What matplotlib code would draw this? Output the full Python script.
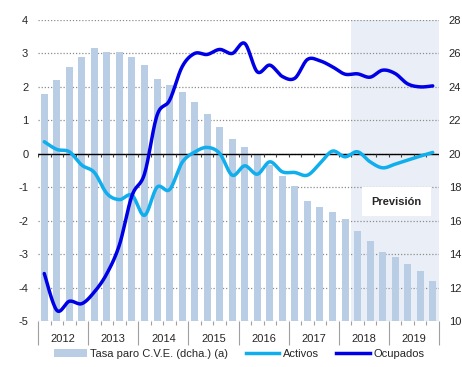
import numpy as np
import matplotlib.pyplot as plt
from matplotlib.patches import Patch
from matplotlib.lines import Line2D

plt.rcParams['font.family'] = ['Liberation Sans', 'DejaVu Sans']
plt.rcParams['axes.unicode_minus'] = False

years = ['2012', '2013', '2014', '2015', '2016', '2017', '2018', '2019']

# quarterly data, 2012Q1 - 2019Q4
tasa_paro = [23.6, 24.4, 25.2, 25.8, 26.3, 26.1, 26.1, 25.8,
             25.3, 24.5, 24.1, 23.7, 23.1, 22.4, 21.6, 20.9,
             20.4, 20.0, 19.3, 18.7, 18.1, 17.2, 16.8, 16.5,
             16.1, 15.4, 14.8, 14.1, 13.8, 13.4, 13.0, 12.4]
activos = [0.36, 0.13, 0.06, -0.34, -0.56, -1.19, -1.37, -1.24,
           -1.84, -1.0, -1.07, -0.26, 0.05, 0.19, 0.01, -0.64,
           -0.36, -0.61, -0.24, -0.54, -0.56, -0.64, -0.29, 0.08,
           -0.09, 0.06, -0.24, -0.42, -0.31, -0.19, -0.07, 0.04]
ocupados = [-3.58, -4.68, -4.41, -4.48, -4.13, -3.58, -2.72, -1.25,
            -0.6, 1.15, 1.6, 2.6, 3.0, 2.97, 3.12, 3.0,
            3.3, 2.45, 2.65, 2.31, 2.26, 2.82, 2.78, 2.6,
            2.38, 2.39, 2.29, 2.5, 2.4, 2.09, 2.0, 2.03]
forecast_start = 25  # first forecast quarter (2018Q2)

bar_color = '#B9CDE5'
activos_color = '#10AEEC'
ocupados_color = '#0000E6'
text_color = '#262626'


def smooth(x, y, steps=16):
    # Catmull-Rom curve through the points (like Excel's smoothed lines)
    x = np.asarray(x, float)
    y = np.asarray(y, float)
    px = np.r_[x[0], x, x[-1]]
    py = np.r_[y[0], y, y[-1]]
    t = np.linspace(0, 1, steps, endpoint=False)[:, None]
    def cr(p):
        p0, p1, p2, p3 = p[:-3], p[1:-2], p[2:-1], p[3:]
        c = 0.5 * (2 * p1 + (-p0 + p2) * t + (2 * p0 - 5 * p1 + 4 * p2 - p3) * t ** 2
                   + (-p0 + 3 * p1 - 3 * p2 + p3) * t ** 3)
        return np.r_[c.T.ravel(), p[-2]]
    return cr(px), cr(py)


n = len(tasa_paro)
q = np.arange(n)

fig = plt.figure(figsize=(4.62, 3.67), dpi=100)
ax = fig.add_axes([38 / 462, 1 - 321 / 367, 401 / 462, 301 / 367])
axr = ax.twinx()
ax.set_zorder(axr.get_zorder() + 1)
ax.patch.set_visible(False)

# right axis: forecast shading, grid and unemployment bars
axr.axvspan(forecast_start - 0.5, n - 0.5, color='#EAEFF7', lw=0, zorder=0.2)
axr.bar(q, np.array(tasa_paro) - 10, bottom=10, width=0.56, color=bar_color, zorder=2)
axr.set_ylim(10, 28)
axr.set_yticks(range(10, 29, 2))
axr.set_axisbelow(True)
axr.yaxis.grid(True, linestyle=(0, (1, 1.5)), color='#8C8C8C', lw=0.9)
axr.tick_params(axis='y', length=0, pad=7, labelsize=8, labelcolor=text_color)

# left axis: lines
ax.axhline(0, color='black', lw=1, zorder=1.5)
ax.vlines(np.arange(-0.5, n), -0.09, 0, color='#404040', lw=0.8, zorder=1.5)
xs, ys = smooth(q, activos)
ax.plot(xs, ys, color=activos_color, lw=2.5, solid_capstyle='round', zorder=3)
xs, ys = smooth(q, ocupados)
ax.plot(xs, ys, color=ocupados_color, lw=2.5, solid_capstyle='round', zorder=3)

ax.set_xlim(-0.5, n - 0.5)
ax.set_ylim(-5, 4)
ax.set_yticks(range(-5, 5))
ax.tick_params(axis='y', length=0, pad=7, labelsize=8, labelcolor=text_color)

ax.set_xticks(np.arange(-0.5, n, 4))
ax.set_xticks(np.arange(-0.5, n), minor=True)
ax.tick_params(axis='x', which='major', length=17, width=0.8, color='#A0A0A0', labelbottom=False)
ax.tick_params(axis='x', which='minor', length=3, width=0.8, color='#A0A0A0')
for i, yr in enumerate(years):
    ax.text(4 * i + 1.5, -0.06, yr, transform=ax.get_xaxis_transform(),
            ha='center', va='center', fontsize=8, color=text_color)

for a in (ax, axr):
    for s in a.spines.values():
        s.set_visible(False)

ax.text(28.1, -1.44, 'Previsión', ha='center', va='center', fontsize=8,
        fontweight='bold', color=text_color, zorder=4,
        bbox=dict(boxstyle='square,pad=0.85', facecolor='white', edgecolor='none'))

handles = [Patch(facecolor=bar_color, edgecolor='none'),
           Line2D([], [], color=activos_color, lw=2.5),
           Line2D([], [], color=ocupados_color, lw=2.5)]
labels = ['Tasa paro C.V.E. (dcha.) (a)', 'Activos', 'Ocupados']
fig.legend(handles, labels, loc='center', bbox_to_anchor=(0.517, 0.035), ncol=3,
           frameon=False, fontsize=8, handlelength=3, handletextpad=0.3,
           columnspacing=1.6, labelcolor=text_color)

fig.savefig('out.png', dpi=100, facecolor='white')
